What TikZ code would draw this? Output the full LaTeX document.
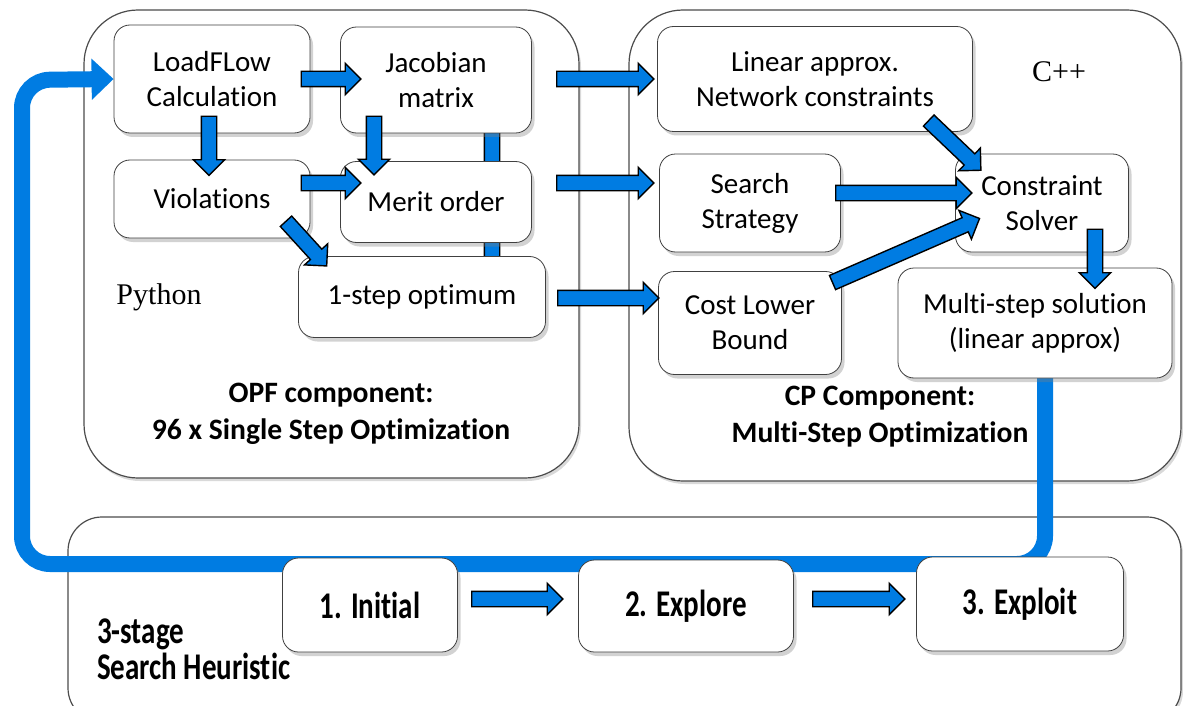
\documentclass[tikz,border=0pt]{standalone}
\usepackage{fontspec}
\setmainfont{Carlito}[Ligatures=NoCommon]
\newfontfamily\timesfont{Liberation Serif}
\usetikzlibrary{calc,shapes.arrows,shadows,arrows.meta}
\definecolor{flowblue}{RGB}{0,124,226}
\pgfdeclarelayer{background}
\pgfdeclarelayer{behind}
\pgfsetlayers{background,behind,main}
\tikzset{
  block/.style={draw=black!75, fill=white, rounded corners=8pt, align=center,
    font=\fontsize{14.5}{17.5}\selectfont,
    drop shadow={shadow xshift=1.5pt, shadow yshift=-2pt, opacity=0.35}},
  stage/.style={block, font=\bfseries\fontsize{14.5}{17}\selectfont},
  container/.style={draw=black!70, fill=white, line width=0.6pt,
    drop shadow={shadow xshift=1pt, shadow yshift=-1.5pt, opacity=0.3}},
  complabel/.style={font=\bfseries\fontsize{14.8}{18.5}\selectfont, align=center},
  langlabel/.style={font=\timesfont\fontsize{15}{17}\selectfont},
  blockarr/.style={single arrow, draw=black, line width=0.7pt, fill=flowblue,
    inner xsep=0pt, inner ysep=3.5pt, minimum width=15pt, single arrow head extend=4pt},
  feedback/.style={draw=flowblue, line width=8pt, rounded corners=14pt,
    -{Triangle[length=11pt,width=20pt]}}
}
\newcommand{\blockarrow}[2]{%
  \path let \p1=(#1), \p2=(#2), \n1={atan2(\y2-\y1,\x2-\x1)},
    \n2={veclen(\x2-\x1,\y2-\y1)} in
    node[blockarr, minimum height=\n2, rotate=\n1] at ($(\p1)!0.5!(\p2)$) {};}
\newcommand{\tall}[1]{\scalebox{1}[1.3]{#1}}
\begin{document}
\begin{tikzpicture}[x=0.5pt, y=-0.5pt]
  \useasboundingbox (0,0) rectangle (1183,706);

  \begin{pgfonlayer}{background}
    \draw[container, rounded corners=27pt] (84,10) rectangle (579,478);
    \draw[container, rounded corners=27pt] (629,10) rectangle (1181,481);
    \draw[container, rounded corners=17pt] (68,517) rectangle (1181,722);
  \end{pgfonlayer}

  \node[block, minimum width=98pt, minimum height=54pt] (lf) at (212,79) {LoadFLow\\Calculation};
  \node[block, minimum width=95.5pt, minimum height=53pt] (jac) at (436,80) {Jacobian\\matrix};
  \node[block, minimum width=98pt, minimum height=39pt] (viol) at (212,199) {Violations};
  \node[block, minimum width=95.5pt, minimum height=40.5pt] (merit) at (436,202) {Merit order};
  \node[block, minimum width=123.5pt, minimum height=40.5pt] (opt) at (422,297) {1-step optimum};
  \node[langlabel] (py) at (159,297) {Python};
  \node[complabel] (opf) at (331,414) {OPF component:\\96 x Single Step Optimization};

  \node[block, minimum width=157.5pt, minimum height=52.5pt] (lin) at (815,79) {Linear approx.\\Network constraints};
  \node[langlabel] (cpp) at (1059,72) {C++};
  \node[block, minimum width=90.5pt, minimum height=49pt] (search) at (750,203) {Search\\Strategy};
  \node[block, minimum width=86.5pt, minimum height=49pt] (cs) at (1042,203) {Constraint\\Solver};
  \node[block, minimum width=91.5pt, minimum height=51.5pt] (cost) at (750,323) {Cost Lower\\Bound};
  \node[block, minimum width=137pt, minimum height=55pt] (ms) at (1035,323) {Multi-step solution\\(linear approx)};
  \node[complabel] (cp) at (880,417) {CP Component:\\Multi-Step Optimization};

  \node[stage, minimum width=87.5pt, minimum height=47pt] (init) at (370,605) {\tall{1. Initial}};
  \node[stage, minimum width=107.5pt, minimum height=46pt] (explore) at (686,606) {\tall{2. Explore}};
  \node[stage, minimum width=103.5pt, minimum height=47pt] (exploit) at (1020,604) {\tall{3. Exploit}};
  \node[font=\bfseries\fontsize{14.5}{18}\selectfont, align=left, anchor=west] (heur) at (90,649) {\tall{3-stage}\\\tall{Search Heuristic}};

  \begin{pgfonlayer}{behind}
    \blockarrow{$(jac.south)+(56,-21)$}{$(opt.north)+(70,16)$}
    \draw[feedback] ($(ms.south)+(10,-4)$) -- (1045,564) -- (22,564) -- (22,80) -- (lf.west);
  \end{pgfonlayer}

  \blockarrow{$(lf.east)+(-13,0)$}{$(jac.west)+(17,-1)$}
  \blockarrow{$(lf.south)+(-3,-21)$}{$(viol.north)+(-3,12)$}
  \blockarrow{$(jac.south)+(-62,-21)$}{$(merit.north)+(-62,10)$}
  \blockarrow{$(viol.east)+(-13,-16)$}{$(merit.west)+(17,-19)$}
  \blockarrow{$(viol.south east)+(-27,-20)$}{$(opt.north west)+(26,7)$}
  \blockarrow{$(jac.east)+(21,-1)$}{$(lin.west)+(-7,0)$}
  \blockarrow{$(merit.east)+(21,-19)$}{$(search.west)+(-9,-20)$}
  \blockarrow{$(opt.east)+(8,1)$}{$(cost.west)+(-3,-25)$}
  \blockarrow{$(lin.south east)+(-47,-14)$}{$(cs.north west)+(23,14)$}
  \blockarrow{$(search.east)+(-9,-10)$}{$(cs.west)+(13,-10)$}
  \blockarrow{$(cost.north east)+(-13,13)$}{$(cs.west)+(21,17)$}
  \blockarrow{$(cs.south)+(53,-27)$}{$(ms.north)+(60,17)$}
  \blockarrow{$(init.east)+(10,-6)$}{$(explore.west)+(-19,-7)$}
  \blockarrow{$(explore.east)+(15,-7)$}{$(exploit.west)+(-15,-5)$}
\end{tikzpicture}
\end{document}
